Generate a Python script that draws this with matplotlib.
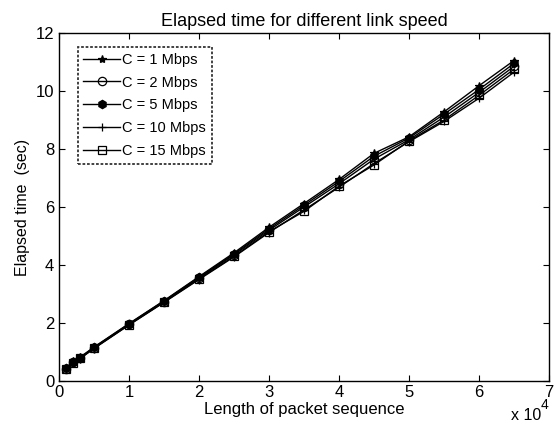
import numpy as np
import matplotlib.pyplot as plt
from matplotlib.ticker import FuncFormatter

plt.rcParams['font.family'] = ['Liberation Sans', 'DejaVu Sans']

# packet sequence length
length = [1000, 2000, 3000, 5000, 10000, 15000, 20000, 25000, 30000,
          35000, 40000, 45000, 50000, 55000, 60000, 65000]

# elapsed time (sec) per link speed
t_1 = [0.45, 0.68, 0.82, 1.17, 1.98, 2.77, 3.60, 4.42, 5.30, 6.12, 6.95, 7.85, 8.42, 9.28, 10.18, 11.05]
t_2 = [0.42, 0.64, 0.79, 1.14, 1.95, 2.74, 3.55, 4.35, 5.20, 6.00, 6.80, 7.65, 8.32, 9.10, 9.95, 10.85]
t_5 = [0.44, 0.66, 0.80, 1.16, 1.97, 2.76, 3.58, 4.38, 5.25, 6.06, 6.88, 7.75, 8.38, 9.20, 10.05, 10.95]
t_10 = [0.40, 0.62, 0.77, 1.12, 1.93, 2.71, 3.50, 4.28, 5.12, 5.90, 6.68, 7.50, 8.25, 8.95, 9.75, 10.65]
t_15 = [0.41, 0.63, 0.78, 1.13, 1.94, 2.72, 3.52, 4.30, 5.15, 5.85, 6.72, 7.45, 8.28, 9.00, 9.85, 10.75]

series = [t_1, t_2, t_5, t_10, t_15]
labels = ['C = 1 Mbps', 'C = 2 Mbps', 'C = 5 Mbps', 'C = 10 Mbps', 'C = 15 Mbps']
markers = ['*', 'o', 'h', '+', 's']

fig = plt.figure(figsize=(5.54, 4.30), dpi=100)
ax = fig.add_axes([59 / 554, 1 - 381 / 430, 490 / 554, 348 / 430])

for ys, lab, mk in zip(series, labels, markers):
    ax.plot(length, ys, '-', color='k', lw=1.0, marker=mk, ms=6,
            mfc='none' if mk in ('o', 's') else 'k', mec='k', mew=0.9, label=lab)

ax.set_xlim(0, 70000)
ax.set_ylim(0, 12)
ax.set_xticks(np.arange(0, 70001, 10000))
ax.set_yticks(np.arange(0, 13, 2))
ax.xaxis.set_major_formatter(FuncFormatter(lambda v, p: '%d' % round(v / 1e4)))
ax.tick_params(direction='in', top=True, right=True, labelsize=12, length=4, width=0.8)
ax.tick_params(axis='x', pad=3)
for s in ax.spines.values():
    s.set_linestyle((0, (1.5, 1)))
    s.set_linewidth(1.0)

ax.set_title('Elapsed time for different link speed', fontsize=13, pad=5)
ax.set_xlabel('Length of packet sequence', fontsize=12, labelpad=1)
ax.set_ylabel('Elapsed time  (sec)', fontsize=11.5, labelpad=4)
fig.text(0.922, 0.016, 'x 10', fontsize=11.5, ha='left', va='bottom')
fig.text(0.975, 0.042, '4', fontsize=10, ha='left', va='bottom')

leg = ax.legend(loc='upper left', bbox_to_anchor=(0.038, 0.96), fontsize=10.5,
                frameon=True, fancybox=False, edgecolor='k', borderpad=0.4,
                labelspacing=0.6, handlelength=2.5, handletextpad=0.15, borderaxespad=0)
leg.get_frame().set_linewidth(1.3)
leg.get_frame().set_linestyle((0, (1.5, 1)))

fig.savefig('out.png', dpi=100)
